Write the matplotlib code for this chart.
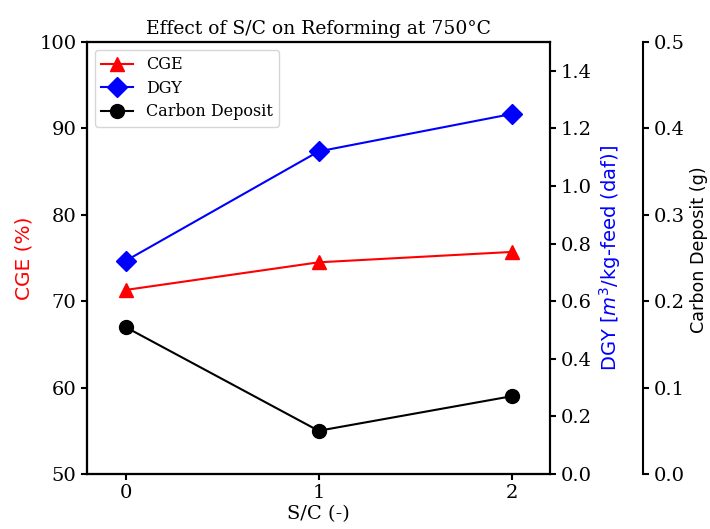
import numpy as np
import matplotlib
matplotlib.use('Agg')
import matplotlib.pyplot as plt

# dados
sc = [0, 1, 2]
cge = [71.3, 74.5, 75.7]
dgy = [0.74, 1.12, 1.25]
carbon = [0.17, 0.05, 0.09]

plt.rcParams['font.family'] = 'DejaVu Serif'

fig = plt.figure(figsize=(7.1, 5.29), dpi=100)
ax1 = fig.add_axes([0.1225, 0.104, 0.6525, 0.8166])
ax2 = ax1.twinx()
ax3 = ax1.twinx()
ax3.spines['right'].set_position(('axes', 1.2))

l1, = ax1.plot(sc, cge, '-^', color='red', markersize=10, linewidth=1.5, label='CGE')
l2, = ax2.plot(sc, dgy, '-D', color='blue', markersize=10, linewidth=1.5, label='DGY')
l3, = ax3.plot(sc, carbon, '-o', color='black', markersize=10, linewidth=1.5, label='Carbon Deposit')

ax1.set_xlim(-0.2, 2.2)
ax1.set_ylim(50, 100)
ax2.set_ylim(0, 1.5)
ax3.set_ylim(0, 0.5)
ax1.set_xticks(sc)
ax2.set_yticks(np.arange(0, 1.41, 0.2))
ax3.set_yticks(np.arange(0, 0.51, 0.1))

for ax in (ax1, ax2, ax3):
    ax.tick_params(labelsize=14, width=1.5, length=4)
    for s in ax.spines.values():
        s.set_linewidth(1.5)

ax1.set_xlabel('S/C (-)', fontsize=14, labelpad=2)
ax1.set_ylabel('CGE (%)', color='red', fontsize=14.5, family='DejaVu Sans')
ax2.set_ylabel('DGY [$m^3$/kg-feed (daf)]', color='blue', fontsize=14, family='DejaVu Sans')
ax3.set_ylabel('Carbon Deposit (g)', color='black', fontsize=12.6, family='DejaVu Sans')
ax3.yaxis.label.set_y(0.52)
ax1.set_title('Effect of S/C on Reforming at 750°C', fontsize=13.5)

ax1.legend(handles=[l1, l2, l3], loc='upper left', fontsize=11.5, labelspacing=0.4)

plt.savefig('out.png', dpi=100)
